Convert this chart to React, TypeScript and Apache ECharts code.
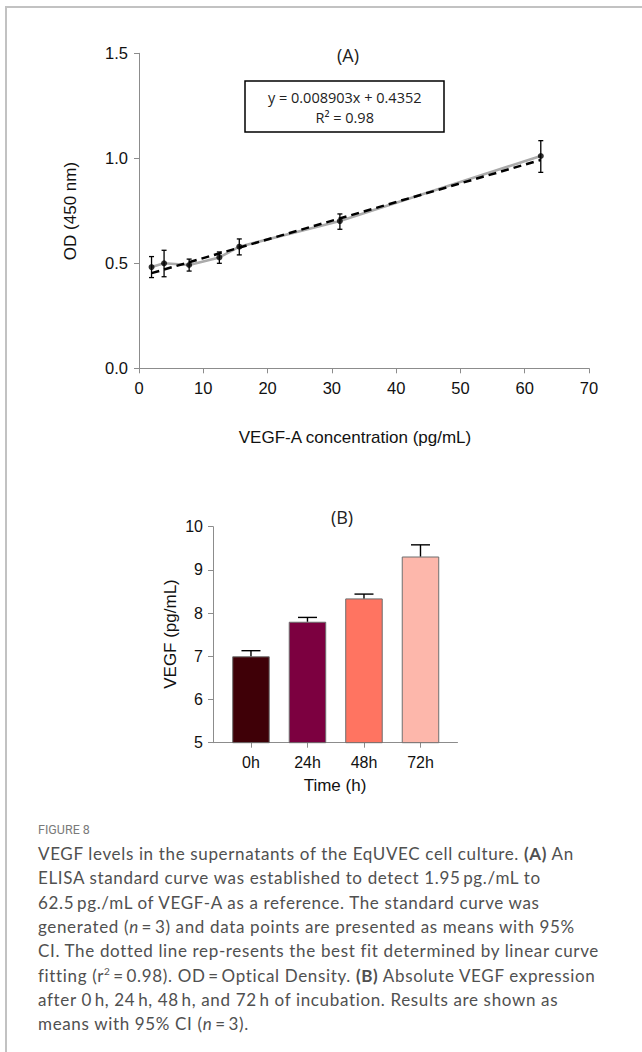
import React, { useEffect, useRef } from "react";
import * as echarts from "echarts";

// ---- Panel A: ELISA standard curve ----
const concentrations = [1.95, 3.9, 7.8, 12.5, 15.6, 31.25, 62.5];
const odMeans = [0.482, 0.5, 0.492, 0.528, 0.579, 0.701, 1.011];
const odLower = [0.432, 0.436, 0.463, 0.5, 0.54, 0.662, 0.933];
const odUpper = [0.532, 0.562, 0.52, 0.554, 0.616, 0.735, 1.084];
const fitX = [1.95, 62.5];
const fitY = [0.453, 0.992];
const equationText = "y = 0.008903x + 0.4352";
const r2Text = "R\u00b2 = 0.98";

// ---- Panel B: VEGF over time ----
const timeLabels = ["0h", "24h", "48h", "72h"];
const vegfMeans = [7.0, 7.8, 8.34, 9.31];
const vegfErr = [0.13, 0.1, 0.1, 0.27];
const barColors = ["#3f0007", "#7c0040", "#ff7461", "#fdb7ab"];

const AX = "#8c8c8c";
const SANS = "'Liberation Sans', Arial, sans-serif";
const OPEN = "'Open Sans', sans-serif";

export default function App() {
  const ref = useRef<HTMLDivElement>(null);

  useEffect(() => {
    document.body.style.margin = "0";
    const chart = echarts.init(ref.current!, null, { renderer: "svg" });

    const errA = concentrations.map((c, i) => [c, odLower[i], odUpper[i]]);
    const bars = vegfMeans.map((v, i) => ({
      value: [i, v],
      itemStyle: { color: barColors[i] },
    }));
    const errB = vegfMeans.map((v, i) => [i, v, v + vegfErr[i]]);

    chart.setOption({
      animation: false,
      textStyle: { fontFamily: SANS },
      grid: [
        { left: 139, top: 53.3, width: 450, height: 315, containLabel: false },
        { left: 213, top: 526.7, width: 244.5, height: 216, containLabel: false },
      ],
      xAxis: [
        {
          type: "value",
          gridIndex: 0,
          min: 0,
          max: 70,
          interval: 10,
          splitLine: { show: false },
          axisLine: { onZero: false, lineStyle: { color: AX, width: 1 } },
          axisTick: { show: true, length: 5, lineStyle: { color: AX } },
          axisLabel: { color: "#111", fontSize: 16.5, fontFamily: SANS, margin: 11 },
        },
        {
          type: "value",
          gridIndex: 1,
          min: -0.672,
          max: 3.655,
          splitLine: { show: false },
          axisLine: { onZero: false, lineStyle: { color: AX, width: 1 } },
          axisTick: { show: true, length: 5, lineStyle: { color: AX }, customValues: [0, 1, 2, 3] },
          axisLabel: {
            color: "#111",
            fontSize: 16,
            fontFamily: SANS,
            margin: 12,
            customValues: [0, 1, 2, 3],
            formatter: (v: number) => timeLabels[Math.round(v)] ?? "",
          },
        },
      ],
      yAxis: [
        {
          type: "value",
          gridIndex: 0,
          min: 0,
          max: 1.5,
          interval: 0.5,
          splitLine: { show: false },
          axisLine: { show: true, onZero: false, lineStyle: { color: AX, width: 1 } },
          axisTick: { show: true, length: 5, lineStyle: { color: AX } },
          axisLabel: {
            color: "#111",
            fontSize: 16.5,
            fontFamily: SANS,
            margin: 11,
            formatter: (v: number) => v.toFixed(1),
          },
        },
        {
          type: "value",
          gridIndex: 1,
          min: 5,
          max: 10,
          interval: 1,
          splitLine: { show: false },
          axisLine: { show: true, onZero: false, lineStyle: { color: AX, width: 1 } },
          axisTick: { show: true, length: 5, lineStyle: { color: AX } },
          axisLabel: { color: "#111", fontSize: 16, fontFamily: SANS, margin: 10 },
        },
      ],
      series: [
        {
          type: "line",
          xAxisIndex: 0,
          yAxisIndex: 0,
          data: concentrations.map((c, i) => [c, odMeans[i]]),
          showSymbol: false,
          symbol: "none",
          lineStyle: { color: "#ababab", width: 2.6 },
          z: 2,
        },
        {
          type: "line",
          xAxisIndex: 0,
          yAxisIndex: 0,
          data: fitX.map((x, i) => [x, fitY[i]]),
          symbol: "none",
          lineStyle: { color: "#000", width: 2.5, type: [8, 5] },
          z: 3,
        },
        {
          type: "custom",
          xAxisIndex: 0,
          yAxisIndex: 0,
          data: errA,
          encode: { x: 0, y: [1, 2] },
          z: 4,
          renderItem: (params: any, api: any) => {
            const x = api.value(0);
            const lo = api.coord([x, api.value(1)]);
            const hi = api.coord([x, api.value(2)]);
            const w = 2.5;
            const st = { stroke: "#000", lineWidth: 1.3 };
            return {
              type: "group",
              children: [
                { type: "line", shape: { x1: lo[0], y1: lo[1], x2: hi[0], y2: hi[1] }, style: st },
                { type: "line", shape: { x1: lo[0] - w, y1: lo[1], x2: lo[0] + w, y2: lo[1] }, style: st },
                { type: "line", shape: { x1: hi[0] - w, y1: hi[1], x2: hi[0] + w, y2: hi[1] }, style: st },
              ],
            };
          },
        },
        {
          type: "scatter",
          xAxisIndex: 0,
          yAxisIndex: 0,
          data: concentrations.map((c, i) => [c, odMeans[i]]),
          symbolSize: 6,
          itemStyle: { color: "#000" },
          z: 5,
        },
        {
          type: "bar",
          xAxisIndex: 1,
          yAxisIndex: 1,
          data: bars,
          barWidth: 37.5,
          itemStyle: { borderColor: "#6e6e6e", borderWidth: 1 },
          clip: true,
          z: 2,
        },
        {
          type: "custom",
          xAxisIndex: 1,
          yAxisIndex: 1,
          data: errB,
          encode: { x: 0, y: [1, 2] },
          z: 4,
          renderItem: (params: any, api: any) => {
            const x = api.value(0);
            const lo = api.coord([x, api.value(1)]);
            const hi = api.coord([x, api.value(2)]);
            const w = 9.5;
            const st = { stroke: "#000", lineWidth: 1.4 };
            return {
              type: "group",
              children: [
                { type: "line", shape: { x1: lo[0], y1: lo[1], x2: hi[0], y2: hi[1] }, style: st },
                { type: "line", shape: { x1: hi[0] - w, y1: hi[1], x2: hi[0] + w, y2: hi[1] }, style: st },
              ],
            };
          },
        },
      ],
      graphic: [
        {
          type: "text",
          x: 348,
          y: 55,
          style: { text: "(A)", font: `18px ${OPEN}`, fill: "#222", textAlign: "center", textVerticalAlign: "middle" },
        },
        {
          type: "rect",
          shape: { x: 245, y: 81, width: 199, height: 51 },
          style: { fill: "#fff", stroke: "#000", lineWidth: 1.5 },
        },
        {
          type: "text",
          x: 344.7,
          y: 97.7,
          style: { text: equationText, font: `14.5px ${OPEN}`, fill: "#222", textAlign: "center", textVerticalAlign: "middle" },
        },
        {
          type: "text",
          x: 344.7,
          y: 117.3,
          style: { text: r2Text, font: `14.5px ${OPEN}`, fill: "#222", textAlign: "center", textVerticalAlign: "middle" },
        },
        {
          type: "text",
          x: 70,
          y: 211,
          rotation: Math.PI / 2,
          style: { text: "OD (450 nm)", font: `17px ${SANS}`, fill: "#111", textAlign: "center", textVerticalAlign: "middle" },
        },
        {
          type: "text",
          x: 355,
          y: 437,
          style: { text: "VEGF-A concentration (pg/mL)", font: `17px ${SANS}`, fill: "#111", textAlign: "center", textVerticalAlign: "middle" },
        },
        {
          type: "text",
          x: 342,
          y: 517,
          style: { text: "(B)", font: `18px ${OPEN}`, fill: "#222", textAlign: "center", textVerticalAlign: "middle" },
        },
        {
          type: "text",
          x: 170,
          y: 634,
          rotation: Math.PI / 2,
          style: { text: "VEGF (pg/mL)", font: `17px ${SANS}`, fill: "#111", textAlign: "center", textVerticalAlign: "middle" },
        },
        {
          type: "text",
          x: 335,
          y: 785,
          style: { text: "Time (h)", font: `17px ${SANS}`, fill: "#111", textAlign: "center", textVerticalAlign: "middle" },
        },
      ],
    });
    return () => chart.dispose();
  }, []);

  const capFont: React.CSSProperties = {
    position: "absolute",
    left: 38,
    fontFamily: "Lato, 'Open Sans', sans-serif",
    fontSize: 17,
    letterSpacing: "0.65px",
    color: "#505050",
    whiteSpace: "nowrap",
    lineHeight: "24px",
  };
  const lines: React.ReactNode[] = [
    <>VEGF levels in the supernatants of the EqUVEC cell culture. <b>(A)</b> An</>,
    <>ELISA standard curve was established to detect 1.95{"\u2009"}pg./mL to</>,
    <>62.5{"\u2009"}pg./mL of VEGF-A as a reference. The standard curve was</>,
    <>generated (<i>n</i>{"\u2009"}={"\u2009"}3) and data points are presented as means with 95%</>,
    <>CI. The dotted line rep-resents the best fit determined by linear curve</>,
    <>fitting (r<sup style={{ fontSize: 10, lineHeight: 0 }}>2</sup>{"\u2009"}={"\u2009"}0.98). OD{"\u2009"}={"\u2009"}Optical Density. <b>(B)</b> Absolute VEGF expression</>,
    <>after 0{"\u2009"}h, 24{"\u2009"}h, 48{"\u2009"}h, and 72{"\u2009"}h of incubation. Results are shown as</>,
    <>means with 95% CI (<i>n</i>{"\u2009"}={"\u2009"}3).</>,
  ];
  const centers = [854, 878.3, 902.6, 926.9, 951.2, 975.5, 999.8, 1024];

  return (
    <div style={{ position: "relative", width: 642, height: 1052, background: "#fff", overflow: "hidden" }}>
      <div ref={ref} style={{ position: "absolute", left: 0, top: 0, width: 642, height: 1052 }} />
      <div style={{ position: "absolute", left: 5, top: 6, width: 650, height: 1060, borderTop: "2px solid #c2c2c2", borderLeft: "2px solid #c2c2c2" }} />
      <div style={{ ...capFont, top: 830 - 12, fontSize: 12.5, letterSpacing: 0, color: "#7a7a7a", fontFamily: "'Liberation Sans Narrow', 'Roboto', sans-serif" }}>FIGURE 8</div>
      {lines.map((l, i) => (
        <div key={i} style={{ ...capFont, top: centers[i] - 12 }}>{l}</div>
      ))}
    </div>
  );
}
